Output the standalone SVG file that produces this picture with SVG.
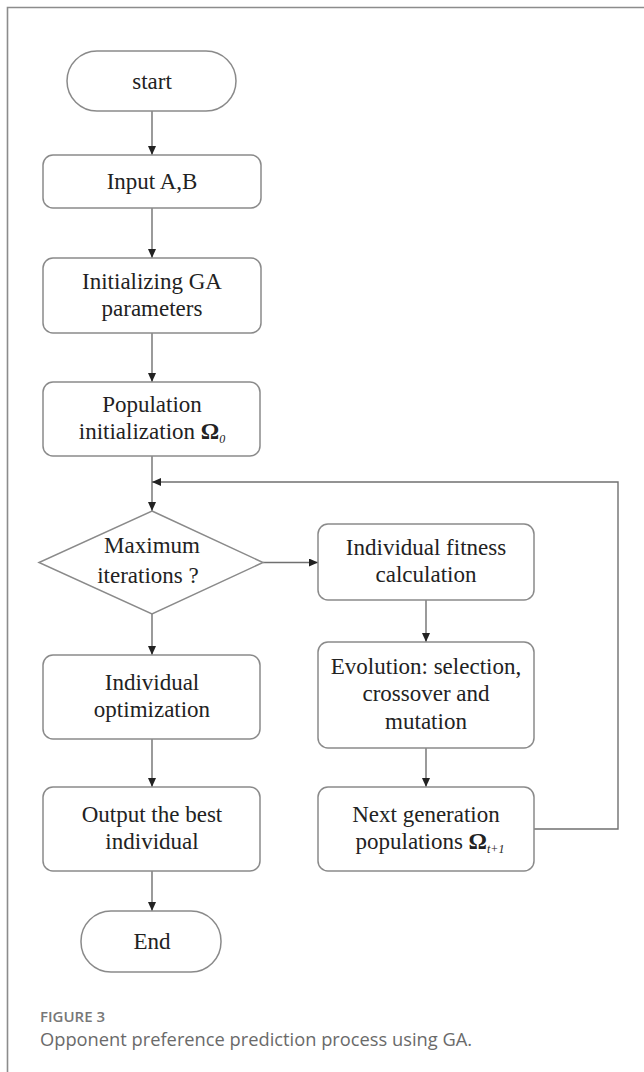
<svg xmlns="http://www.w3.org/2000/svg" width="644" height="1072" viewBox="0 0 644 1072">
<style>
.box{fill:#fff;stroke:#8a8a8a;stroke-width:1.5}
.t{font-family:"Liberation Serif","Times New Roman",serif;font-size:23px;fill:#222;text-anchor:middle}
.om{font-weight:bold}
.sub{font-style:italic;font-size:12px}
.c{fill:none;stroke:#707070;stroke-width:1.4}
.frame{stroke:#8c8c8c;stroke-width:1.6;fill:none}
</style>
<defs>
<marker id="ah" markerUnits="userSpaceOnUse" markerWidth="10" markerHeight="9" refX="9" refY="4" orient="auto">
<path d="M0,0 L9,4 L0,8 z" fill="#222"/>
</marker>
</defs>
<rect width="644" height="1072" fill="#fff"/>
<path class="frame" d="M7.5,1072 L7.5,7.5 L644,7.5"/>

<g id="connectors">
<path class="c" marker-end="url(#ah)" d="M152,111 L152,155"/>
<path class="c" marker-end="url(#ah)" d="M152,208 L152,258"/>
<path class="c" marker-end="url(#ah)" d="M152,333 L152,382"/>
<path class="c" marker-end="url(#ah)" d="M152,456 L152,511"/>
<path class="c" marker-end="url(#ah)" d="M263,562.5 L318,562.5"/>
<path class="c" marker-end="url(#ah)" d="M152,614 L152,655"/>
<path class="c" marker-end="url(#ah)" d="M426,600 L426,642"/>
<path class="c" marker-end="url(#ah)" d="M426,748 L426,787"/>
<path class="c" marker-end="url(#ah)" d="M152,739 L152,787"/>
<path class="c" marker-end="url(#ah)" d="M152,871 L152,911"/>
<path class="c" marker-end="url(#ah)" d="M534,829 L618,829 L618,482 L152,482"/>
</g>

<g id="start">
<rect class="box" x="67" y="51" width="169" height="60" rx="30"/>
<text class="t" x="152" y="89">start</text>
</g>
<g id="input">
<rect class="box" x="43" y="155" width="218" height="53" rx="10"/>
<text class="t" x="152" y="189">Input A,B</text>
</g>
<g id="init">
<rect class="box" x="43" y="258" width="218" height="75" rx="10"/>
<text class="t" x="152" y="289">Initializing GA</text>
<text class="t" x="152" y="316">parameters</text>
</g>
<g id="population">
<rect class="box" x="43" y="382" width="217" height="74" rx="10"/>
<text class="t" x="152" y="412">Population</text>
<text class="t" x="152" y="439">initialization <tspan class="om">Ω</tspan><tspan class="sub" dy="4">0</tspan></text>
</g>
<g id="decision">
<polygon class="box" points="152,511 263,562.5 152,614 39,562.5"/>
<text class="t" x="152" y="553">Maximum</text>
<text class="t" x="148" y="583">iterations ?</text>
</g>
<g id="fitness">
<rect class="box" x="318" y="524" width="216" height="76" rx="10"/>
<text class="t" x="426" y="555">Individual fitness</text>
<text class="t" x="426" y="582">calculation</text>
</g>
<g id="evolution">
<rect class="box" x="318" y="642" width="216" height="106" rx="10"/>
<text class="t" x="426" y="674">Evolution: selection,</text>
<text class="t" x="426" y="701">crossover and</text>
<text class="t" x="426" y="729">mutation</text>
</g>
<g id="optimization">
<rect class="box" x="43" y="655" width="217" height="84" rx="10"/>
<text class="t" x="152" y="690">Individual</text>
<text class="t" x="152" y="717">optimization</text>
</g>
<g id="output">
<rect class="box" x="43" y="787" width="217" height="84" rx="10"/>
<text class="t" x="152" y="822">Output the best</text>
<text class="t" x="152" y="849">individual</text>
</g>
<g id="nextgen">
<rect class="box" x="318" y="787" width="216" height="84" rx="10"/>
<text class="t" x="426" y="822">Next generation</text>
<text class="t" x="430" y="849">populations <tspan class="om">Ω</tspan><tspan class="sub" dy="4">t+1</tspan></text>
</g>
<g id="end">
<rect class="box" x="81" y="911" width="140" height="61" rx="30"/>
<text class="t" x="152" y="949">End</text>
</g>

<g id="caption" font-family="'Open Sans','Noto Sans',sans-serif">
<text x="40" y="1022" font-size="15" font-weight="600" fill="#777">FIGURE 3</text>
<text x="40" y="1046" font-size="18.3" fill="#6a6a6a">Opponent preference prediction process using GA.</text>
</g>
</svg>
